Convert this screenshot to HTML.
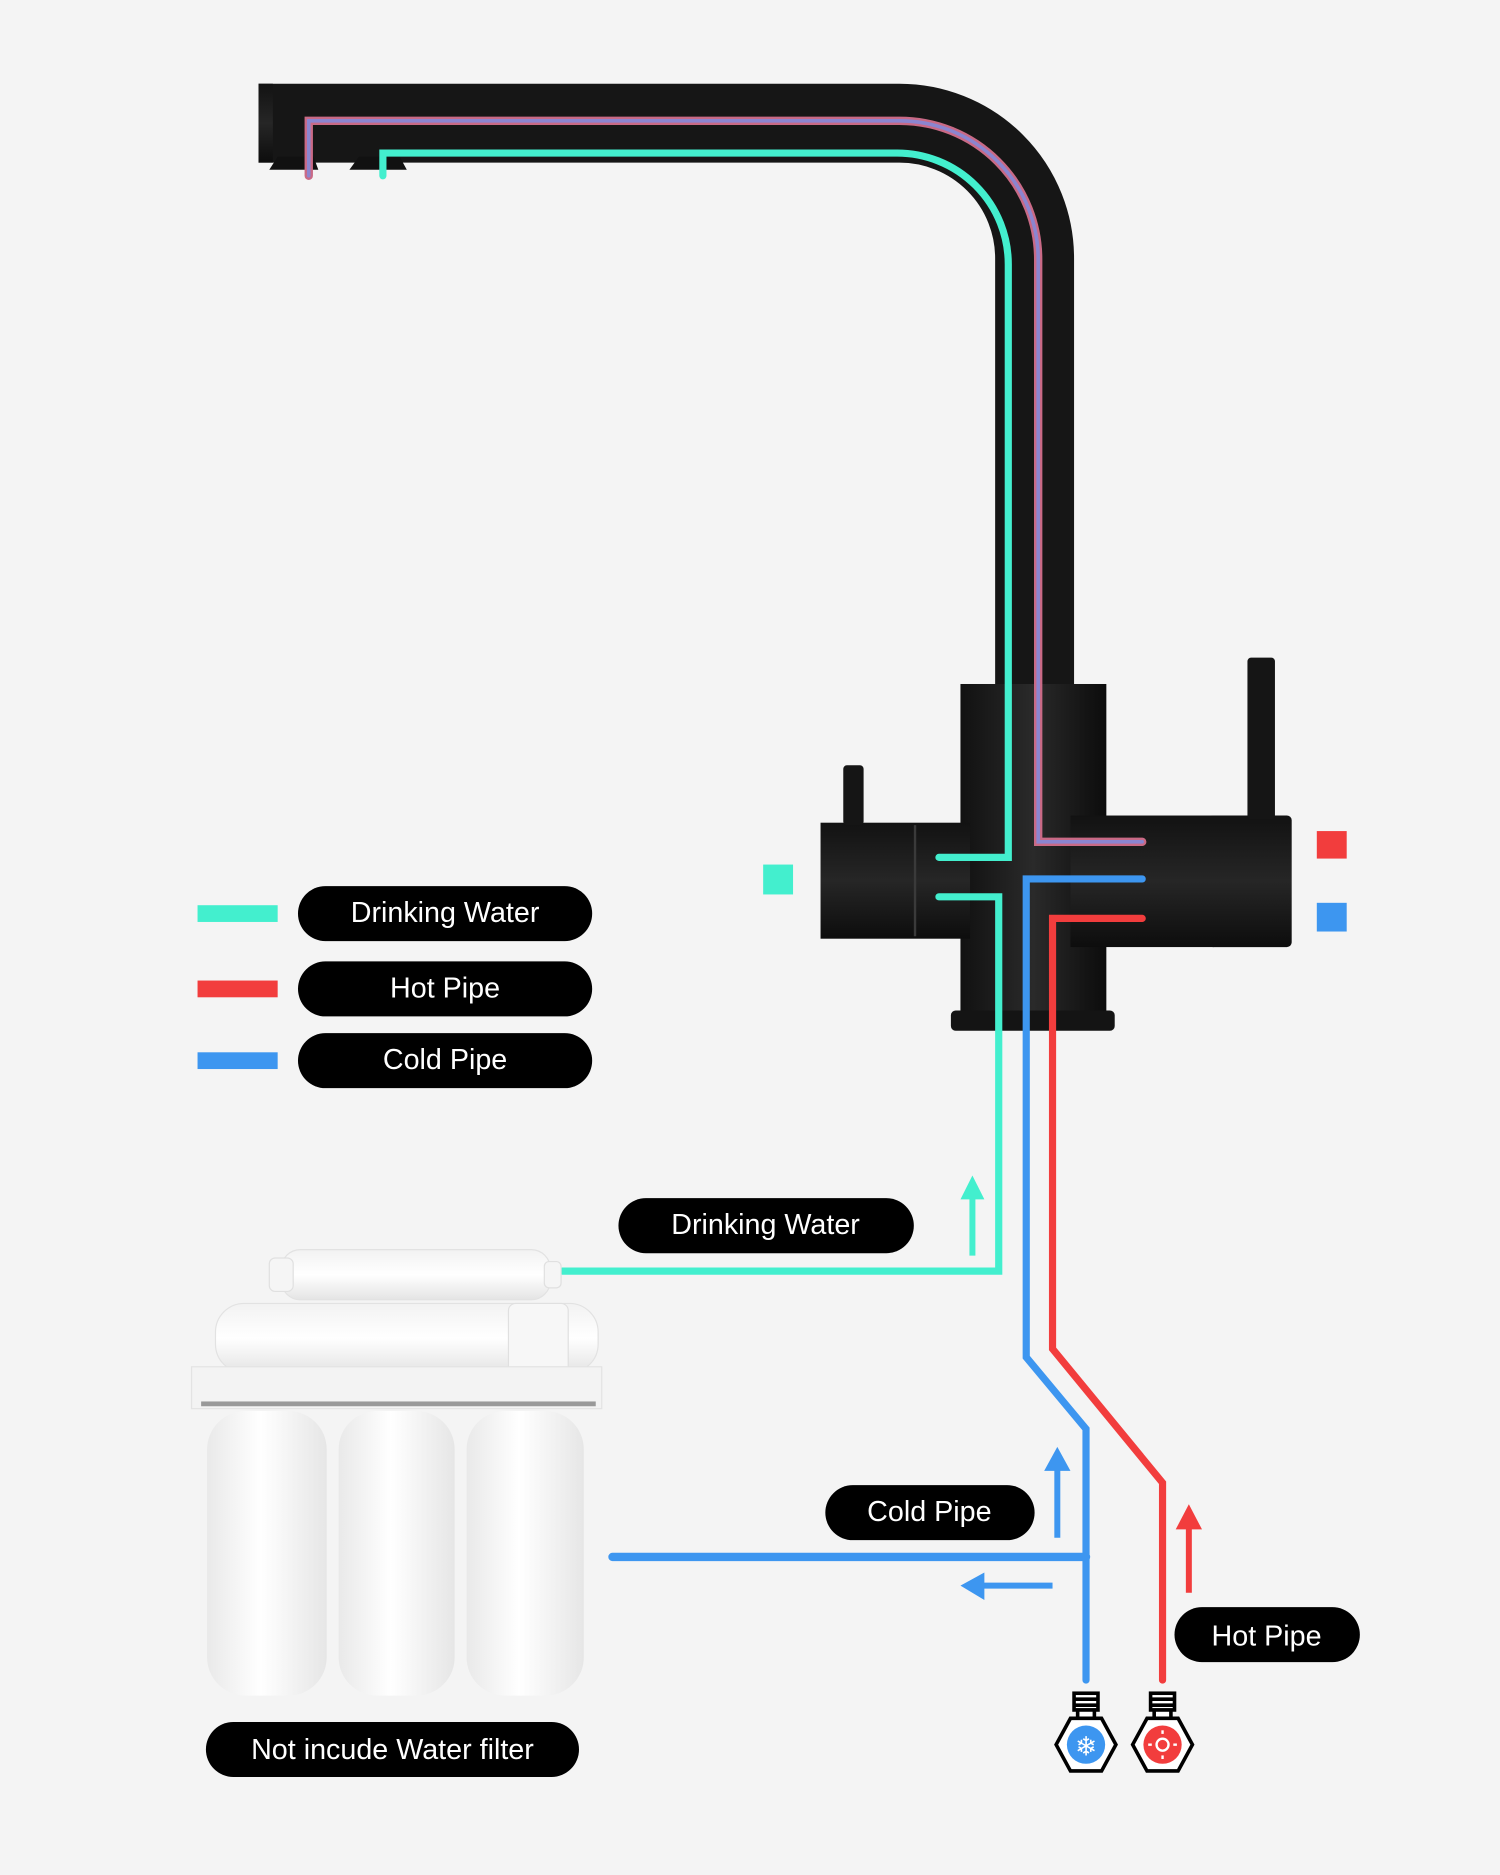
<!DOCTYPE html>
<html><head><meta charset="utf-8"><style>
html,body{margin:0;padding:0;background:#f4f4f4;}
svg{display:block;}
text{font-family:"Liberation Sans",sans-serif;fill:#fff;font-size:24px;text-anchor:middle;}
</style></head><body>
<svg width="1500" height="1875" viewBox="0 0 1254 1568" xmlns="http://www.w3.org/2000/svg">
<defs>
<linearGradient id="cyl" x1="0" x2="1" y1="0" y2="0">
<stop offset="0" stop-color="#111"/><stop offset="0.5" stop-color="#2a2a2a"/><stop offset="1" stop-color="#0c0c0c"/></linearGradient>
<linearGradient id="hcyl" x1="0" x2="0" y1="0" y2="1">
<stop offset="0" stop-color="#121212"/><stop offset="0.5" stop-color="#262626"/><stop offset="1" stop-color="#0d0d0d"/></linearGradient>
<linearGradient id="wc" x1="0" x2="1" y1="0" y2="0">
<stop offset="0" stop-color="#e9e9e9"/><stop offset="0.45" stop-color="#ffffff"/><stop offset="1" stop-color="#e6e6e6"/></linearGradient>
<linearGradient id="wh" x1="0" x2="0" y1="0" y2="1">
<stop offset="0" stop-color="#f2f2f2"/><stop offset="0.5" stop-color="#ffffff"/><stop offset="1" stop-color="#e4e4e4"/></linearGradient>
</defs>
<rect width="1254" height="1568" fill="#f4f4f4"/>

<!-- spout -->
<path d="M216 103 H752 A113 113 0 0 1 865 216 V580" fill="none" stroke="#161616" stroke-width="66"/>
<rect x="216" y="70" width="12" height="66" fill="url(#hcyl)"/>
<path d="M225 142 L232 131 L262 131 L266 142 Z M292 142 L300 131 L334 131 L340 142 Z" fill="#111"/>

<!-- body -->
<rect x="803" y="572" width="122" height="278" fill="url(#cyl)"/>
<rect x="795" y="845" width="137" height="17" rx="4" fill="#141414"/>
<rect x="686" y="688" width="125" height="97" fill="url(#hcyl)"/>
<line x1="765" y1="690" x2="765" y2="783" stroke="#3a3a3a" stroke-width="2"/>
<rect x="895" y="682" width="120" height="110" fill="url(#hcyl)"/>
<rect x="1010" y="682" width="70" height="110" rx="4" fill="url(#hcyl)"/>
<rect x="705" y="640" width="17" height="50" rx="3" fill="#151515"/>
<rect x="1043" y="550" width="23" height="135" rx="3" fill="#151515"/>

<!-- pipes in spout -->
<path d="M258 147 V101 H752 A116 116 0 0 1 868 217 V704 H955" fill="none" stroke="#c96a86" stroke-width="7" stroke-linecap="round"/>
<path d="M258 147 V101 H752 A116 116 0 0 1 868 217 V704 H955" fill="none" stroke="#8b85d0" stroke-width="3" stroke-linecap="round"/>
<path d="M320 147 V128 H750 A93 93 0 0 1 843 221 V717 H785" fill="none" stroke="#43efce" stroke-width="6" stroke-linecap="round"/>
<path d="M785 750 H835 V1063 H470" fill="none" stroke="#43efce" stroke-width="6" stroke-linecap="round"/>
<path d="M955 735 H858 V1135 L908 1195 V1405" fill="none" stroke="#3d96f0" stroke-width="6" stroke-linecap="round"/>
<path d="M955 768 H880 V1128 L972 1240 V1405" fill="none" stroke="#f23d3d" stroke-width="6" stroke-linecap="round"/>
<path d="M512 1302 H908" fill="none" stroke="#3d96f0" stroke-width="7" stroke-linecap="round"/>

<!-- squares -->
<rect x="638" y="723" width="25" height="25" fill="#43efce"/>
<rect x="1101" y="695" width="25" height="23" fill="#f23d3d"/>
<rect x="1101" y="755" width="25" height="24" fill="#3d96f0"/>

<!-- legend -->
<rect x="165" y="757" width="67" height="14" fill="#43efce"/>
<rect x="165" y="820" width="67" height="14" fill="#f23d3d"/>
<rect x="165" y="880" width="67" height="14" fill="#3d96f0"/>
<rect x="249" y="741" width="246" height="46" rx="23" fill="#000"/>
<rect x="249" y="804" width="246" height="46" rx="23" fill="#000"/>
<rect x="249" y="864" width="246" height="46" rx="23" fill="#000"/>
<text x="372" y="771">Drinking Water</text>
<text x="372" y="834">Hot Pipe</text>
<text x="372" y="894">Cold Pipe</text>

<!-- labels -->
<rect x="517" y="1002" width="247" height="46" rx="23" fill="#000"/>
<text x="640" y="1032">Drinking Water</text>
<rect x="690" y="1242" width="175" height="46" rx="23" fill="#000"/>
<text x="777" y="1272">Cold Pipe</text>
<rect x="982" y="1344" width="155" height="46" rx="23" fill="#000"/>
<text x="1059" y="1376">Hot Pipe</text>
<rect x="172" y="1440" width="312" height="46" rx="23" fill="#000"/>
<text x="328" y="1471">Not incude Water filter</text>

<!-- arrows -->
<line x1="813" y1="1050" x2="813" y2="1000" stroke="#43efce" stroke-width="5"/>
<polygon points="803,1003 813,983 823,1003" fill="#43efce"/>
<line x1="884" y1="1286" x2="884" y2="1226" stroke="#3d96f0" stroke-width="5"/>
<polygon points="873,1230 884,1210 895,1230" fill="#3d96f0"/>
<line x1="880" y1="1326" x2="820" y2="1326" stroke="#3d96f0" stroke-width="5"/>
<polygon points="823,1315 803,1326 823,1338" fill="#3d96f0"/>
<line x1="994" y1="1332" x2="994" y2="1275" stroke="#f23d3d" stroke-width="5"/>
<polygon points="983,1279 994,1258 1005,1279" fill="#f23d3d"/>

<!-- valves -->
<g stroke="#000" stroke-width="3">
<rect x="898" y="1416" width="20" height="14" fill="#fff"/>
<line x1="898" y1="1421" x2="918" y2="1421"/><line x1="898" y1="1426" x2="918" y2="1426"/>
<rect x="901" y="1430" width="14" height="7" fill="#fff"/>
<polygon points="895,1437 921,1437 933,1459 921,1481 895,1481 883,1459" fill="#fff"/>
<rect x="962" y="1416" width="20" height="14" fill="#fff"/>
<line x1="962" y1="1421" x2="982" y2="1421"/><line x1="962" y1="1426" x2="982" y2="1426"/>
<rect x="965" y="1430" width="14" height="7" fill="#fff"/>
<polygon points="959,1437 985,1437 997,1459 985,1481 959,1481 947,1459" fill="#fff"/>
</g>
<circle cx="908" cy="1459" r="16" fill="#3d96f0"/>
<text x="908" y="1468" style="font-size:22px">❄</text>
<circle cx="972" cy="1459" r="16" fill="#f23d3d"/>
<circle cx="972" cy="1459" r="5" fill="none" stroke="#fff" stroke-width="2"/>
<g stroke="#fff" stroke-width="2"><line x1="972" y1="1447" x2="972" y2="1450"/><line x1="972" y1="1468" x2="972" y2="1471"/><line x1="960" y1="1459" x2="963" y2="1459"/><line x1="981" y1="1459" x2="984" y2="1459"/></g>

<!-- filter -->
<rect x="235" y="1045" width="225" height="42" rx="16" fill="url(#wh)" stroke="#e2e2e2"/>
<rect x="225" y="1052" width="20" height="28" rx="5" fill="#f5f5f5" stroke="#e0e0e0"/>
<rect x="455" y="1055" width="14" height="22" rx="4" fill="#f5f5f5" stroke="#e0e0e0"/>
<rect x="180" y="1090" width="320" height="58" rx="24" fill="url(#wh)" stroke="#e2e2e2"/>
<rect x="425" y="1090" width="50" height="58" rx="6" fill="#f7f7f7" stroke="#e0e0e0"/>
<rect x="160" y="1143" width="343" height="35" fill="#f3f3f3" stroke="#e3e3e3"/>
<rect x="168" y="1172" width="330" height="4" fill="#999"/>
<rect x="173" y="1180" width="100" height="238" rx="32" fill="url(#wc)"/>
<rect x="283" y="1180" width="97" height="238" rx="32" fill="url(#wc)"/>
<rect x="390" y="1180" width="98" height="238" rx="32" fill="url(#wc)"/>
</svg>
</body></html>
